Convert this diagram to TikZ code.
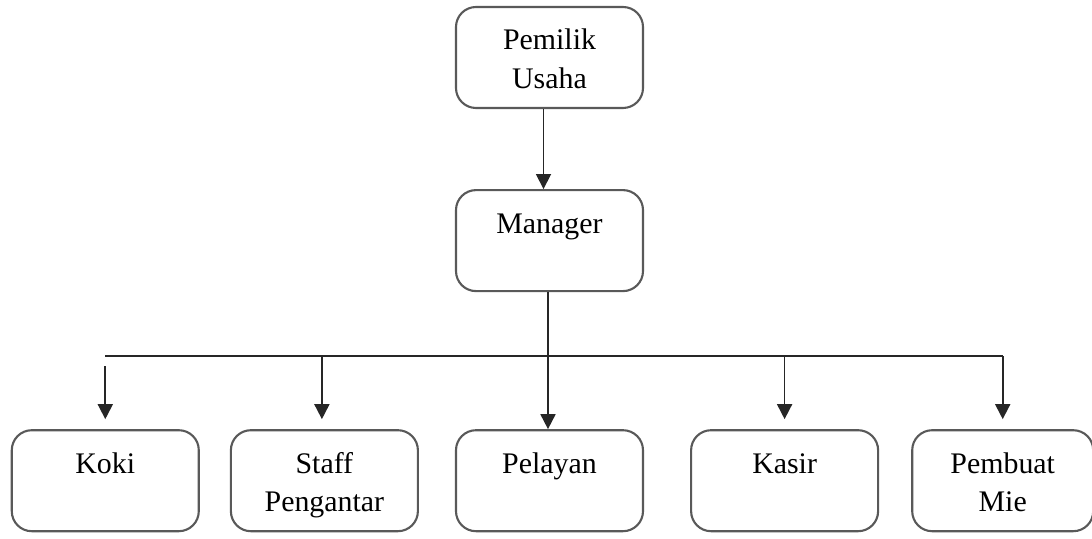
\documentclass[tikz,border=0pt]{standalone}
\usepackage{fontspec}
\setmainfont{Liberation Serif}
\usetikzlibrary{shapes,arrows.meta,positioning,calc}

\begin{document}
\begin{tikzpicture}[
    node distance=1.5cm,
    box/.style={rectangle, rounded corners=0.4cm, draw=black!65, line width=1.2pt, minimum width=3.74cm, text width=3.4cm, text centered, inner sep=0pt, text height=0.86cm, text depth=1.16cm, font=\fontsize{17}{22}\selectfont},
    arrow/.style={-{Triangle[length=0.3cm, width=0.3cm]}, line width=1pt, draw=black!85},
    line/.style={line width=1pt, draw=black!85}
]
    \useasboundingbox (0,0) rectangle (21.84,-10.78);

    \node[box] (pemilik) at (10.99,-1.15) {Pemilik\\Usaha};
    \node[box, below=1.6cm of pemilik] (manager) {Manager};
    \node[box, below=2.74cm of manager] (pelayan) {Pelayan};
    \node[box, left=0.72cm of pelayan] (staff) {Staff\\Pengantar};
    \node[box, left=0.6cm of staff] (koki) {Koki};
    \node[box, right=0.92cm of pelayan] (kasir) {Kasir};
    \node[box, right=0.64cm of kasir, minimum width=3.62cm] (pembuat) {Pembuat\\Mie};

    \coordinate (bus) at ($(manager.south)+(0,-1.28)$);

    \draw[arrow] ([xshift=-0.12cm]pemilik.south) -- ([xshift=-0.12cm]manager.north);
    \draw[arrow] ([xshift=-0.03cm]manager.south) -- ([xshift=-0.03cm]pelayan.north);
    \draw[line] (bus -| koki.north) -- (bus -| pembuat.north);
    \draw[arrow, shorten >=0.2cm] (bus -| pembuat.north) -- (pembuat.north);
    \draw[arrow, shorten >=0.2cm] ($(bus -| koki.north)+(0,-0.2)$) -- (koki.north);
    \draw[arrow, shorten >=0.2cm] ([xshift=-0.05cm]bus -| staff.north) -- ([xshift=-0.05cm]staff.north);
    \draw[arrow, shorten >=0.2cm] (bus -| kasir.north) -- (kasir.north);
\end{tikzpicture}
\end{document}
